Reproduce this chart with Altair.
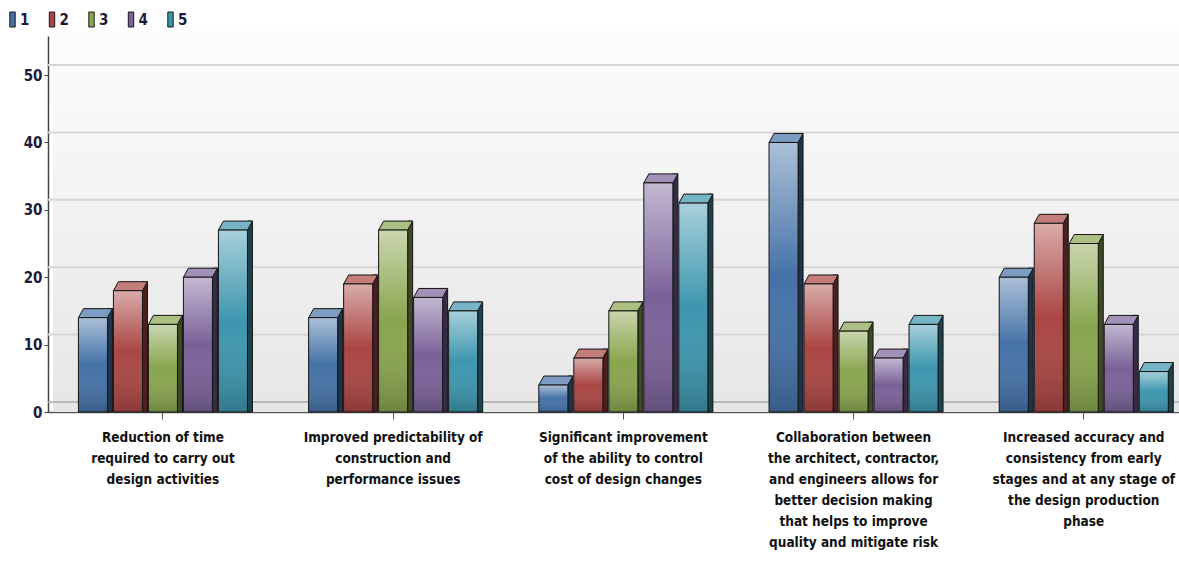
import altair as alt
import pandas as pd

# Survey: perceived benefits, number of respondents per rating (1-5)
benefits = [
    "Reduction of time|required to carry out|design activities",
    "Improved predictability of|construction and|performance issues",
    "Significant improvement|of the ability to control|cost of design changes",
    "Collaboration between|the architect, contractor,|and engineers allows for|better decision making|that helps to improve|quality and mitigate risk",
    "Increased accuracy and|consistency from early|stages and at any stage of|the design production|phase",
]
ratings = ["1", "2", "3", "4", "5"]
rating_1 = [14, 14, 4, 40, 20]
rating_2 = [18, 19, 8, 19, 28]
rating_3 = [13, 27, 15, 12, 25]
rating_4 = [20, 17, 34, 8, 13]
rating_5 = [27, 15, 31, 13, 6]
y_ticks = [0, 10, 20, 30, 40, 50]
grid_ticks = [10, 20, 30, 40, 50]
palette = ["#4572A7", "#AA4643", "#89A54E", "#7A6299", "#3D96AE"]

Y_MAX = 55.8
FONT = "DejaVu Sans Condensed, Liberation Sans Narrow, sans-serif"

rows = []
for r, vals in zip(ratings, [rating_1, rating_2, rating_3, rating_4, rating_5]):
    for b, v in zip(benefits, vals):
        rows.append({"benefit": b, "rating": r, "count": v})
df = pd.DataFrame(rows)
grid_df = pd.DataFrame({"count": grid_ticks})
floor_df = pd.DataFrame({"count": [0]})
panel_df = pd.DataFrame({"count": [0]})

x_enc = alt.X(
    "benefit:N",
    sort=benefits,
    scale=alt.Scale(paddingInner=0.2398, paddingOuter=0.0764, align=0.78),
    axis=alt.Axis(
        title=None,
        labelAngle=0,
        labelExpr="split(datum.label, '|')",
        labelFont=FONT,
        labelFontSize=13.5,
        labelFontWeight="bold",
        labelColor="#111111",
        labelLineHeight=21,
        labelBaseline="top",
        labelPadding=11,
        labelLimit=240,
        tickColor="#555555",
        tickSize=7,
        domainColor="#555555",
        domainWidth=1.5,
    ),
)
y_enc = alt.Y(
    "count:Q",
    stack=None,
    scale=alt.Scale(domain=[0, Y_MAX], nice=False, zero=True),
    axis=alt.Axis(
        title=None,
        values=y_ticks,
        grid=False,
        domainColor="#444444",
        domainWidth=1.5,
        tickColor="#444444",
        tickSize=4,
        labelFont=FONT,
        labelFontSize=15,
        labelFontWeight="bold",
        labelColor="#1c1c3a",
        labelPadding=2,
    ),
)
legend_def = alt.Legend(
    title=None,
    orient="none",
    legendX=-43,
    legendY=-24,
    direction="horizontal",
    columns=5,
    symbolType="M-0.9,-2.5L0.9,-2.5L0.9,2.5L-0.9,2.5Z",
    symbolSize=36,
    symbolStrokeColor="#1a1a1a",
    symbolStrokeWidth=1,
    symbolOpacity=1,
    labelFont=FONT,
    labelFontSize=15,
    labelFontWeight="bold",
    labelColor="#1c1c3a",
    labelOffset=0,
    columnPadding=14.5,
    padding=0,
)
color_enc = alt.Color("rating:N", scale=alt.Scale(domain=ratings, range=palette), legend=legend_def)

# bar slots within each benefit group: 35 px pitch, 29 px faces, 5 px side faces
xoff_front = alt.XOffset("rating:N", sort=ratings, scale=alt.Scale(paddingInner=0.17, paddingOuter=0.085))
xoff_side = alt.XOffset(
    "rating:N", sort=ratings,
    scale=alt.Scale(range=[17, 192], paddingInner=0.857, paddingOuter=0.4286),
)
xoff_top = alt.XOffset(
    "rating:N", sort=ratings,
    scale=alt.Scale(type="point", range=[17.5, 157.5], padding=0),
)

# back wall with soft vertical gradient
wall_fill = alt.Gradient(
    gradient="linear", x1=0, x2=0, y1=0, y2=1,
    stops=[alt.GradientStop(color="#fdfdfd", offset=0),
           alt.GradientStop(color="#e6e6e6", offset=1)],
)
panel = alt.Chart(panel_df).mark_rect(fill=wall_fill, yOffset=-10).encode(
    x=alt.value(5), x2=alt.value(1131), y=alt.datum(Y_MAX), y2=alt.datum(0)
)

grid = alt.Chart(grid_df).mark_rule(color="#d6d6d6", strokeWidth=2, xOffset=5, yOffset=-10).encode(y=y_enc)
floor = alt.Chart(floor_df).mark_rule(color="#a8a8a8", strokeWidth=1.5, xOffset=5, yOffset=-10).encode(y=y_enc)

# right-hand side face of every bar
side = alt.Chart(df).mark_bar(yOffset=-9).encode(x=x_enc, xOffset=xoff_side, y=y_enc, color=color_enc)
side_shade = alt.Chart(df).mark_bar(
    yOffset=-9, fill="#000000", fillOpacity=0.55, stroke="#141414", strokeWidth=1
).encode(x=x_enc, xOffset=xoff_side, y=y_enc)

# slanted top face of every bar, centred on the bar
TOP_PATH = "M-0.725,0L0.725,0L0.975,-0.45L-0.475,-0.45Z"
top = alt.Chart(df).mark_point(shape=TOP_PATH, size=1600, filled=True, opacity=1).encode(
    x=x_enc, xOffset=xoff_top, y=y_enc, color=color_enc
)
top_shade = alt.Chart(df).mark_point(
    shape=TOP_PATH, size=1600, filled=True, fill="#ffffff", fillOpacity=0.3, opacity=1,
    stroke="#141414", strokeWidth=1, strokeOpacity=1,
).encode(x=x_enc, xOffset=xoff_top, y=y_enc)

# front face with light-to-dark shading
front = alt.Chart(df).mark_bar().encode(x=x_enc, xOffset=xoff_front, y=y_enc, color=color_enc)
front_fill = alt.Gradient(
    gradient="linear", x1=0, x2=0, y1=0, y2=1,
    stops=[
        alt.GradientStop(color="rgba(255,255,255,0.55)", offset=0),
        alt.GradientStop(color="rgba(255,255,255,0)", offset=0.5),
        alt.GradientStop(color="rgba(0,0,0,0.2)", offset=1),
    ],
)
front_shade = alt.Chart(df).mark_bar(fill=front_fill, stroke="#141414", strokeWidth=1).encode(
    x=x_enc, xOffset=xoff_front, y=y_enc
)

chart = (
    alt.layer(panel, grid, floor, side, side_shade, top, top_shade, front, front_shade)
    .resolve_scale(xOffset="independent")
    .properties(
        width=1131,
        height=376,
        autosize=alt.AutoSizeParams(type="none"),
        padding={"left": 48, "top": 36, "right": 0, "bottom": 163},
        background="#ffffff",
    )
    .configure_view(strokeWidth=0)
)

chart.save("out.html", embed_options={"renderer": "svg", "actions": False})
